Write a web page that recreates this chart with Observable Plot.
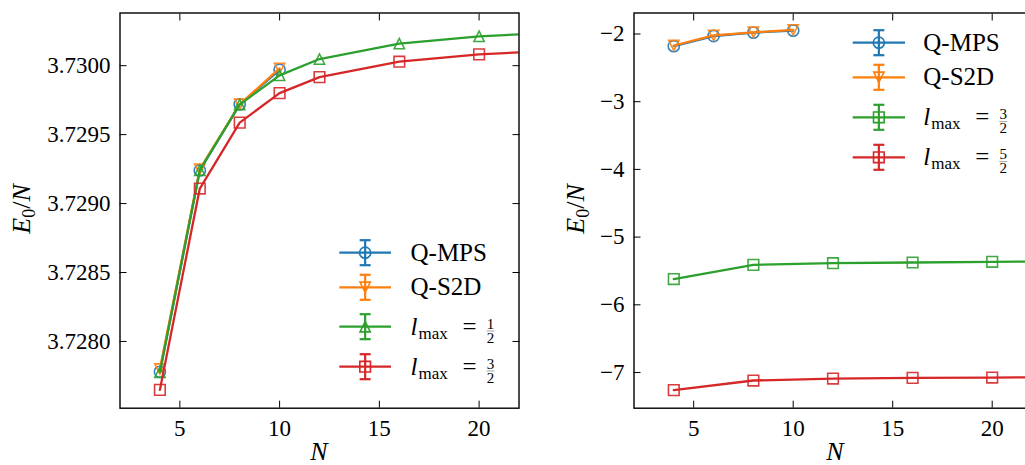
<!DOCTYPE html>
<html><head><meta charset="utf-8">
<script src="https://cdn.jsdelivr.net/npm/d3@7"></script>
<script src="https://cdn.jsdelivr.net/npm/@observablehq/plot@0.6"></script>
<style>
html,body{margin:0;padding:0;background:#fff;overflow:hidden}
#fig{position:relative;width:1025px;height:465px;overflow:hidden;background:#fff}
#fig svg{position:absolute;top:0}
#fig svg text{font-family:"Liberation Serif","DejaVu Serif",serif !important}
</style></head><body><div id="fig"></div>
<script>
// ---------- data ----------
const xTicks = [5, 10, 15, 20];
const yTicksLeft = [3.7280, 3.7285, 3.7290, 3.7295, 3.7300];
const yTicksRight = [-7, -6, -5, -4, -3, -2];

// left panel
const nQLeft = [4, 6, 8, 10];
const qmpsLeft = [3.72778, 3.72924, 3.72972, 3.72997];
const qs2dLeft = [3.72780, 3.72925, 3.72972, 3.72998];
const nLLeft = [4, 6, 8, 10, 12, 16, 20, 24];
const lHalfLeft = [3.727777, 3.729242, 3.729718, 3.72993, 3.730048, 3.73016, 3.730213, 3.73024];
const lThreeHalfLeft = [3.727649, 3.729109, 3.729587, 3.729801, 3.729917, 3.730029, 3.730082, 3.73011];

// right panel
const nQRight = [4, 6, 8, 10];
const qmpsRight = [-2.18, -2.03, -1.98, -1.95];
const qs2dRight = [-2.17, -2.02, -1.975, -1.94];
const nLRight = [4, 8, 12, 16, 20, 24];
const lThreeHalfRight = [-5.62, -5.41, -5.385, -5.375, -5.365, -5.36];
const lFiveHalfRight = [-7.26, -7.118, -7.089, -7.079, -7.074, -7.07];

const seriesNames = ["Q-MPS", "Q-S2D"];
const fracLeft = [["1", "2"], ["3", "2"]];
const fracRight = [["3", "2"], ["5", "2"]];

const C = {blue: "#1f77b4", orange: "#ff7f0e", green: "#2ca02c", red: "#d62728"};

// ---------- symbols ----------
const triUp = {draw(ctx, size) { const h = Math.sqrt(size) / 2; ctx.moveTo(0, -h); ctx.lineTo(-h, h); ctx.lineTo(h, h); ctx.closePath(); }};
const triDown = {draw(ctx, size) { const h = Math.sqrt(size) / 2; ctx.moveTo(0, h); ctx.lineTo(-h, -h); ctx.lineTo(h, -h); ctx.closePath(); }};
const square = {draw(ctx, size) { const h = Math.sqrt(size) / 2; ctx.rect(-h, -h, 2 * h, 2 * h); }};
const circle = d3.symbolCircle;

const rows = (xs, ys) => xs.map((x, i) => ({x, y: ys[i]}));

function seriesMarks(data, color, symbol, r) {
  return [
    Plot.line(data, {x: "x", y: "y", stroke: color, strokeWidth: 2.3, clip: true}),
    Plot.dot(data, {x: "x", y: "y", stroke: color, fill: "none", symbol, r, strokeWidth: 1.6, strokeOpacity: 0.9, clip: true})
  ];
}

function axes(yTicks, yFmt) {
  return [
    Plot.axisX({ticks: xTicks, tickSize: -7, tickPadding: 18, label: null, tickFormat: d => String(d)}),
    Plot.axisX({anchor: "top", ticks: xTicks, tickSize: -7, tickFormat: () => "", label: null}),
    Plot.axisY({ticks: yTicks, tickSize: -7, tickPadding: 16.5, tickFormat: yFmt, label: null}),
    Plot.axisY({anchor: "right", ticks: yTicks, tickSize: -7, tickFormat: () => "", label: null}),
    Plot.frame({stroke: "#000", strokeWidth: 1.4})
  ];
}

const style = {fontFamily: "Liberation Serif", fontSize: "23px", background: "transparent", color: "#000"};

const leftPlot = Plot.plot({
  width: 530, height: 465,
  marginLeft: 119.5, marginRight: 11.5, marginTop: 12.5, marginBottom: 57.3,
  x: {domain: [2, 22]},
  y: {domain: [3.727516, 3.730382]},
  style,
  marks: [
    ...seriesMarks(rows(nQLeft, qmpsLeft), C.blue, circle, 5.6),
    ...seriesMarks(rows(nQLeft, qs2dLeft), C.orange, triDown, 5.8),
    ...seriesMarks(rows(nLLeft, lHalfLeft), C.green, triUp, 5.8),
    ...seriesMarks(rows(nLLeft, lThreeHalfLeft), C.red, square, 6),
    ...axes(yTicksLeft, d3.format(".4f"))
  ]
});

const rightPlot = Plot.plot({
  width: 530, height: 465,
  marginLeft: 113.5, marginRight: 18.5, marginTop: 12.5, marginBottom: 57.3,
  x: {domain: [2, 22]},
  y: {domain: [-7.527, -1.69]},
  style,
  marks: [
    ...seriesMarks(rows(nQRight, qmpsRight), C.blue, circle, 5.6),
    ...seriesMarks(rows(nQRight, qs2dRight), C.orange, triDown, 5.8),
    ...seriesMarks(rows(nLRight, lThreeHalfRight), C.green, square, 6),
    ...seriesMarks(rows(nLRight, lFiveHalfRight), C.red, square, 6),
    ...axes(yTicksRight, d => d3.format("d")(d))
  ]
});

const fig = document.getElementById("fig");
leftPlot.style.left = "0px";
rightPlot.style.left = "520px";
fig.appendChild(leftPlot);
fig.appendChild(rightPlot);

// ---------- overlay: axis labels & legends ----------
const svgO = d3.select(fig).append("svg").attr("width", 1025).attr("height", 465)
  .style("left", "0px").style("pointer-events", "none").attr("fill", "#000");

function yLabel(x, y) {
  const t = svgO.append("text").attr("transform", `translate(${x},${y}) rotate(-90)`)
    .attr("text-anchor", "middle").attr("font-size", 26);
  t.append("tspan").attr("font-style", "italic").text("E");
  t.append("tspan").attr("font-size", 18).attr("dy", 5).text("0");
  t.append("tspan").attr("dy", -5).text("/");
  t.append("tspan").attr("font-style", "italic").text("N");
}
function xLabel(x, y) {
  svgO.append("text").attr("x", x).attr("y", y).attr("text-anchor", "middle")
    .attr("font-size", 26).attr("font-style", "italic").text("N");
}
yLabel(30, 209);
yLabel(584, 209);
xLabel(319, 460);
xLabel(835, 460);

function drawLegend(x0, x1, tx, entries) {
  const cx = (x0 + x1) / 2;
  for (const e of entries) {
    const g = svgO.append("g").attr("stroke", e.color).attr("fill", "none");
    g.append("line").attr("x1", x0).attr("x2", x1).attr("y1", e.y).attr("y2", e.y).attr("stroke-width", 2.3);
    g.append("line").attr("x1", cx).attr("x2", cx).attr("y1", e.y - 12.5).attr("y2", e.y + 12.5).attr("stroke-width", 2.2);
    for (const s of [-1, 1]) g.append("line").attr("x1", cx - 5.5).attr("x2", cx + 5.5)
      .attr("y1", e.y + s * 12.5).attr("y2", e.y + s * 12.5).attr("stroke-width", 2.2);
    g.append("path").attr("transform", `translate(${cx},${e.y})`)
      .attr("d", d3.symbol(e.symbol, Math.PI * e.r * e.r)()).attr("stroke-width", 1.6);
    if (e.frac) {
      const t = svgO.append("text").attr("x", tx).attr("y", e.y + 8).attr("font-size", 25);
      t.append("tspan").attr("font-style", "italic").text("l");
      t.append("tspan").attr("font-size", 17).attr("dy", 4).attr("dx", 1).text("max");
      svgO.append("text").attr("x", tx + 59).attr("y", e.y + 8).attr("font-size", 25).attr("text-anchor", "middle").text("=");
      const fx = tx + 80;
      svgO.append("text").attr("x", fx).attr("y", e.y + 2).attr("font-size", 15).attr("text-anchor", "middle").text(e.frac[0]);
      svgO.append("text").attr("x", fx).attr("y", e.y + 16).attr("font-size", 15).attr("text-anchor", "middle").text(e.frac[1]);
      svgO.append("line").attr("x1", fx - 4).attr("x2", fx + 4).attr("y1", e.y + 4.3).attr("y2", e.y + 4.3)
        .attr("stroke", "#000").attr("stroke-width", 0.6).attr("stroke-opacity", 0.6);
    } else {
      svgO.append("text").attr("x", tx).attr("y", e.y + 8).attr("font-size", 25).text(e.label);
    }
  }
}

drawLegend(339.3, 391, 410.5, [
  {y: 252.7, color: C.blue, symbol: circle, r: 5.6, label: seriesNames[0]},
  {y: 287.3, color: C.orange, symbol: triDown, r: 5.8, label: seriesNames[1]},
  {y: 326.7, color: C.green, symbol: triUp, r: 5.8, frac: fracLeft[0]},
  {y: 366.7, color: C.red, symbol: square, r: 6, frac: fracLeft[1]}
]);
drawLegend(852.7, 905, 923.3, [
  {y: 42.7, color: C.blue, symbol: circle, r: 5.6, label: seriesNames[0]},
  {y: 77.3, color: C.orange, symbol: triDown, r: 5.8, label: seriesNames[1]},
  {y: 117.3, color: C.green, symbol: square, r: 6, frac: fracRight[0]},
  {y: 157.3, color: C.red, symbol: square, r: 6, frac: fracRight[1]}
]);
</script></body></html>
